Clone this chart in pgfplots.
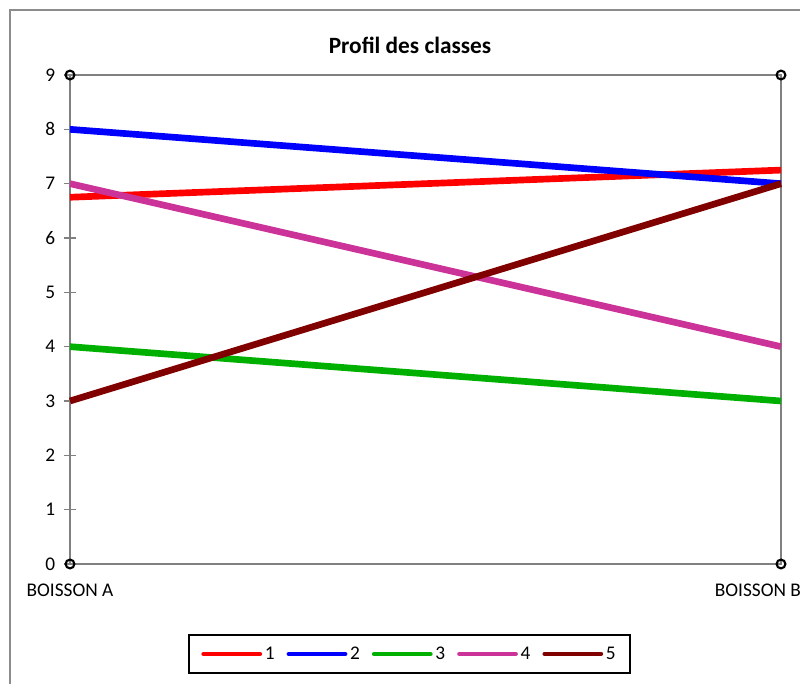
\documentclass[border=0pt]{standalone}
\usepackage{fontspec}
\setmainfont{Carlito}
\usepackage{pgfplots}
\pgfplotsset{compat=1.18}

\definecolor{axgray}{RGB}{128,128,128}
\definecolor{framegray}{RGB}{140,140,140}
\definecolor{cRed}{RGB}{255,0,0}
\definecolor{cBlue}{RGB}{0,0,255}
\definecolor{cGreen}{RGB}{0,176,0}
\definecolor{cMag}{RGB}{204,51,153}
\definecolor{cDark}{RGB}{128,0,0}

\begin{document}
\begin{tikzpicture}
% 1 px of the 800x684 reference = 0.75pt
\path[use as bounding box] (0pt,0pt) rectangle (600pt,513pt);
\clip (0pt,0pt) rectangle (600pt,513pt);
\draw[framegray, line width=1pt] (7.5pt,-20pt) -- (7.5pt,505.5pt) -- (630pt,505.5pt);
\node[font=\bfseries\fontsize{17.5}{20}\selectfont] at (307.5pt,479pt) {Profil des classes};

\begin{axis}[
    at={(52.5pt,90pt)}, anchor=south west,
    scale only axis,
    width=533.25pt, height=366.75pt,
    xmin=0, xmax=1, ymin=0, ymax=9,
    xtick={0,1}, xticklabels={BOISSON A, \makebox[0pt][r]{BOISSON B\hspace{-15pt}}},
    ytick={0,1,...,9},
    xtick style={draw=none},
    ytick pos=left,
    tick align=center,
    major tick length=9pt,
    tick style={axgray, line width=0.9pt},
    axis line style={axgray, line width=1.1pt},
    ticklabel style={font=\fontsize{14.5}{17}\selectfont},
    /pgf/number format/assume math mode=true,
    yticklabel style={xshift=-3pt},
    xticklabel style={yshift=-7pt},
    clip=false,
    legend columns=5,
    legend style={at={(0.478,-0.184)}, anchor=center, draw=black, line width=1.3pt,
        font=\fontsize{14.5}{17}\selectfont, inner xsep=9pt, inner ysep=7pt},
    legend image code/.code={\draw[line width=3.6pt, line cap=round] (0pt,0pt) -- (42pt,0pt);},
    /tikz/every even column/.append style={column sep=7pt},
    legend cell align=left,
]
\addplot[cRed, line width=5pt] coordinates {(0,6.75) (1,7.25)};
\addplot[cBlue, line width=5pt] coordinates {(0,8) (1,7)};
\addplot[cGreen, line width=5pt] coordinates {(0,4) (1,3)};
\addplot[cMag, line width=5pt] coordinates {(0,7) (1,4)};
\addplot[cDark, line width=5pt] coordinates {(0,3) (1,7)};
\legend{1,2,3,4,5}
\addplot[only marks, mark=o, mark size=3.3pt, mark options={black, line width=1.6pt, fill=white}, forget plot]
    coordinates {(0,0) (0,9) (1,9) (1,0)};
\end{axis}
\end{tikzpicture}
\end{document}
